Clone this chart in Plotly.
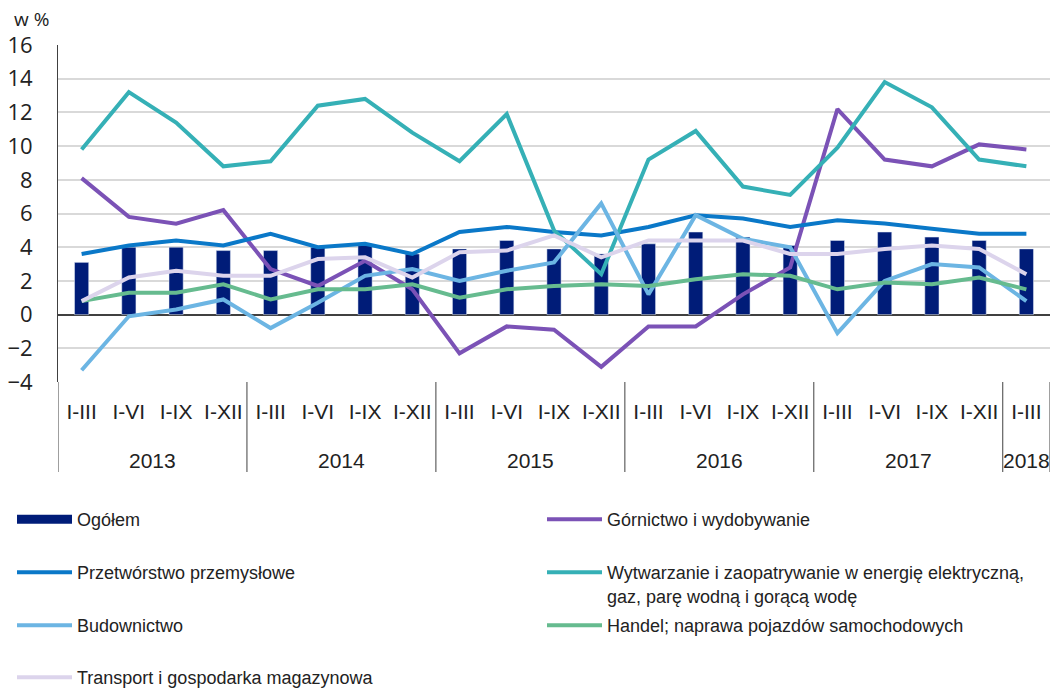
import plotly.graph_objects as go

quarters = ["I-III", "I-VI", "I-IX", "I-XII"] * 5 + ["I-III"]
years = ["2013", "2014", "2015", "2016", "2017", "2018"]
year_counts = [4, 4, 4, 4, 4, 1]

ogolem = [3.1, 4.0, 4.0, 3.8, 3.8, 4.0, 4.1, 3.6, 3.9, 4.4, 3.9, 3.6, 4.2, 4.9, 4.6, 4.1, 4.4, 4.9, 4.6, 4.4, 3.9]
gornictwo = [8.1, 5.8, 5.4, 6.2, 2.7, 1.7, 3.2, 1.5, -2.3, -0.7, -0.9, -3.1, -0.7, -0.7, 1.2, 2.8, 12.2, 9.2, 8.8, 10.1, 9.8]
przetworstwo = [3.6, 4.1, 4.4, 4.1, 4.8, 4.0, 4.2, 3.6, 4.9, 5.2, 4.9, 4.7, 5.2, 5.9, 5.7, 5.2, 5.6, 5.4, 5.1, 4.8, 4.8]
wytwarzanie = [9.8, 13.2, 11.4, 8.8, 9.1, 12.4, 12.8, 10.8, 9.1, 11.9, 5.0, 2.4, 9.2, 10.9, 7.6, 7.1, 9.9, 13.8, 12.3, 9.2, 8.8]
budownictwo = [-3.3, -0.1, 0.3, 0.9, -0.8, 0.7, 2.3, 2.7, 2.0, 2.6, 3.1, 6.6, 1.2, 5.9, 4.5, 4.0, -1.1, 2.0, 3.0, 2.8, 0.8]
handel = [0.8, 1.3, 1.3, 1.8, 0.9, 1.5, 1.5, 1.8, 1.0, 1.5, 1.7, 1.8, 1.7, 2.1, 2.4, 2.3, 1.5, 1.9, 1.8, 2.2, 1.5]
transport = [0.8, 2.2, 2.6, 2.3, 2.3, 3.3, 3.4, 2.2, 3.7, 3.8, 4.7, 3.4, 4.4, 4.4, 4.4, 3.6, 3.6, 3.9, 4.1, 3.9, 2.4]

idx = list(range(len(quarters)))

W, H = 1054, 688
L, R, T, B = 58, 4, 45, 306
plot_h = H - T - B

cond = "Liberation Sans, Arial, sans-serif"
reg = "Open Sans, Noto Sans, sans-serif"

def cfont(size):
    return dict(family=cond, size=size, color="#222")

NAVY = "#001c78"

fig = go.Figure()
fig.add_trace(go.Bar(x=idx, y=ogolem, name="Ogółem", marker_color=NAVY,
                     width=0.3, showlegend=False))
# legend entry for the bars (wide rectangle symbol like the reference)
fig.add_trace(go.Scatter(x=[None], y=[None], name="Ogółem", mode="lines",
                         line=dict(color=NAVY, width=9), legend="legend",
                         hoverinfo="skip"))

lines = [
    ("Górnictwo i wydobywanie", gornictwo, "#7b52b6", "legend2"),
    ("Przetwórstwo przemysłowe", przetworstwo, "#0a78c8", "legend3"),
    ("Wytwarzanie i zaopatrywanie w energię elektryczną,<br>gaz, parę wodną i gorącą wodę", wytwarzanie, "#35b0b6", "legend4"),
    ("Budownictwo", budownictwo, "#6cb5e3", "legend5"),
    ("Handel; naprawa pojazdów samochodowych", handel, "#66bb8f", "legend6"),
    ("Transport i gospodarka magazynowa", transport, "#dcd4ec", "legend7"),
]
for name, vals, col, lg in lines:
    fig.add_trace(go.Scatter(x=idx, y=vals, name=name, mode="lines",
                             line=dict(color=col, width=4), legend=lg))

annotations = []
start = 0
seps = [-0.5]
for yr, n in zip(years, year_counts):
    center = start + (n - 1) / 2
    annotations.append(dict(x=center, y=(382 - 460) / plot_h, xref="x", yref="paper",
                            yanchor="middle", text=yr, showarrow=False, font=cfont(21)))
    start += n
    seps.append(start - 0.5)

annotations.append(dict(x=(12 - L) / (W - L - R), y=(382 - 19) / plot_h, xref="paper", yref="paper",
                        text="w %", showarrow=False, xanchor="left", yanchor="middle",
                        font=dict(family=reg, size=19, color="#222")))

shapes = []
for s in seps:
    shapes.append(dict(type="line", xref="x", yref="paper", x0=s, x1=s,
                       y0=0, y1=(382 - 472) / plot_h, line=dict(color="#404040", width=1)))

legend_common = dict(orientation="v", xref="container", yref="container",
                     font=cfont(18), valign="top",
                     bgcolor="rgba(0,0,0,0)", yanchor="top", xanchor="left", itemwidth=55)

# (legend key, left x px, row y px)
legend_pos = [
    ("legend", 12, 520), ("legend2", 542, 520),
    ("legend3", 12, 573), ("legend4", 542, 573),
    ("legend5", 12, 626), ("legend6", 542, 626),
    ("legend7", 12, 678),
]
lay = {}
for key, lx, ry in legend_pos:
    d = dict(legend_common)
    d.update(x=lx / W, y=1 - (ry - 19) / H)
    lay[key] = d

fig.update_layout(
    width=W, height=H,
    margin=dict(l=L, r=R, t=T, b=B, autoexpand=False),
    plot_bgcolor="white", paper_bgcolor="white",
    showlegend=True,
    xaxis=dict(range=[-0.5, 20.5], tickmode="array", tickvals=idx, ticktext=quarters,
               tickfont=cfont(21),
               ticks="outside", ticklen=11, tickcolor="rgba(0,0,0,0)",
               showgrid=False, zeroline=False, showline=False, fixedrange=True),
    yaxis=dict(range=[-4, 16], dtick=2, tickfont=dict(family=reg, size=22, color="#222"),
               showgrid=True, gridcolor="#d9d9d9", gridwidth=1.5,
               zeroline=True, zerolinecolor="#404040", zerolinewidth=1.5,
               showline=True, linecolor="#404040", linewidth=1, ticks="", ticklabelstandoff=20),
    annotations=annotations,
    shapes=shapes,
    **lay,
)

fig.write_html("out.html", config={"displayModeBar": False},
               post_script="document.body.style.margin='0';document.body.style.overflow='hidden';")
